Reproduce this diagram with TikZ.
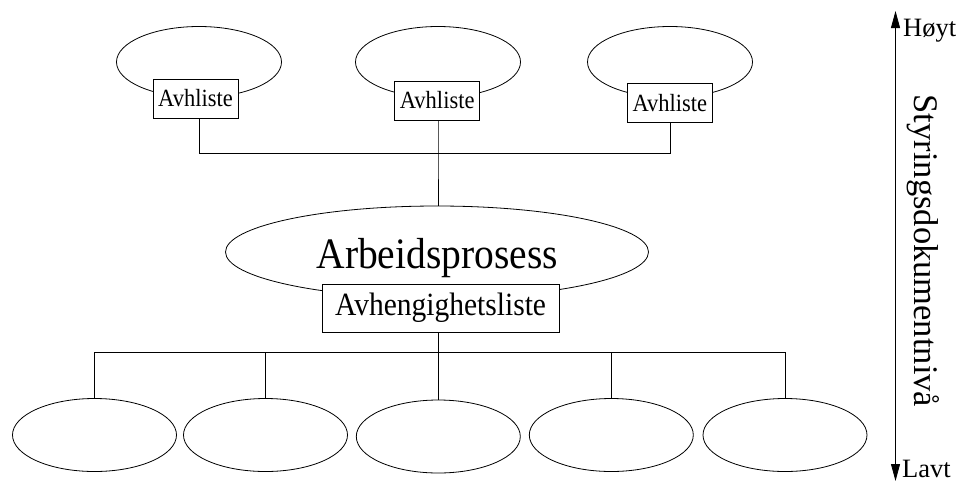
\documentclass[tikz,border=0pt]{standalone}
\usepackage{fontspec}
\usepackage{graphicx}
\setmainfont{Liberation Serif}
\usetikzlibrary{shapes.geometric,arrows.meta}

% slightly tall lettering used throughout
\newcommand{\tall}[1]{\scalebox{1}[1.1]{#1}}

\tikzset{
  line/.style={draw=black, line width=0.8pt},
  oval/.style={line, ellipse, inner sep=0pt},
  small oval/.style={oval, minimum width=165pt, minimum height=71pt},
  leaf oval/.style={oval, minimum width=164pt, minimum height=73pt},
  listbox/.style={line, fill=white, rectangle, inner sep=0pt},
  small box/.style={listbox, minimum width=85pt, minimum height=39pt, font=\fontsize{22.5}{24}\selectfont},
  big box/.style={listbox, minimum width=237pt, minimum height=48pt, font=\fontsize{29.5}{32}\selectfont},
  levelmark/.style={inner sep=0pt, anchor=base west, font=\fontsize{26.5}{28}\selectfont},
  scalehead/.tip={Triangle[length=17pt,width=9pt]},
}

\begin{document}
\begin{tikzpicture}[x=1pt, y=-1pt]
  \useasboundingbox (0,0) rectangle (960,482);

  % upper level: three processes with their dependency lists
  \node[small oval] (e1) at (199,62) {};
  \node[small oval] (e2) at (438,62) {};
  \node[small oval] (e3) at (670,62) {};
  \node[small box] (b1) at (195.5,98.5) {\tall{Avhliste}};
  \node[small box] (b2) at (437.2,100.5) {\tall{Avhliste}};
  \node[small box] (b3) at (669.8,102.8) {\tall{Avhliste}};

  % main work process
  \node[oval, minimum width=423pt, minimum height=92pt] (main) at (437,252) {};
  \node[inner sep=0pt, font=\fontsize{39.5}{42}\selectfont] (title) at (437.2,258) {\tall{Arbeidsprosess}};
  \node[big box] (dep) at (440.6,308.2) {\tall{Avhengighetsliste}};

  % lower level: five sub-processes
  \node[leaf oval] (l1) at (94.5,435) {};
  \node[leaf oval] (l2) at (265.5,435) {};
  \node[leaf oval] (l3) at (438.3,436.5) {};
  \node[leaf oval] (l4) at (611.3,435) {};
  \node[leaf oval] (l5) at (785,435) {};

  % upper tree
  \coordinate (up) at (438,153.3);
  \draw[line] (b1.south -| e1) |- (up);
  \draw[line] (b3.south -| e3) |- (up);
  \draw[line] (b2.south -| e2) -- (up) -- (main.north -| e2);

  % lower tree
  \coordinate (down) at (438,352.7);
  \draw[line] (dep.south -| down) -- (down);
  \foreach \n in {l1,l2,l3,l4,l5}
    \draw[line] (down) -| (\n.north);

  % scale of steering-document level
  \coordinate (top) at (895.5,11);
  \coordinate (bottom) at (895.5,481);
  \draw[line, scalehead-scalehead] (top) -- (bottom);
  \node[levelmark] (high) at (903,36) {Høyt};
  \node[levelmark] (low) at (902,477) {Lavt};
  \node[inner sep=0pt, rotate=-90, anchor=base, font=\fontsize{34.5}{37}\selectfont] (axis) at (914,251) {Styringsdokumentnivå};
\end{tikzpicture}
\end{document}
